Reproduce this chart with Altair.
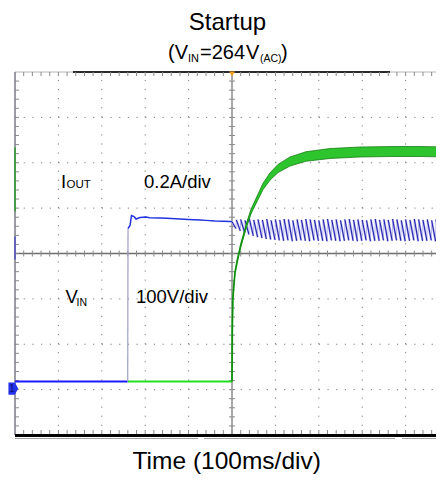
import altair as alt
import pandas as pd

FONT = "Liberation Sans"

# ---------------- data (scope divisions: x = 100 ms/div, y = div from centre) ----
grid_x = [1, 2, 3, 4, 6, 7, 8, 9]
grid_y = [-3, -2, -1, 1, 2, 3]
minor_x = [round(0.2 * i, 1) for i in range(1, 49)]
minor_y = [round(-4 + 0.2 * i, 1) for i in range(1, 40)]
X_MAX = 9.70  # visible part of the 10-division screen

# VIN trace (blue, 100 V/div)
vin_pre_t = [0.0, 2.597]
vin_pre_v = [-2.821, -2.821]
vin_jump_t = [2.597, 2.604]
vin_jump_v = [-2.821, 0.551]
vin_hold_t = [2.604, 2.650, 2.684, 2.742, 2.788, 2.880, 3.018, 3.100, 3.341, 3.500,
              3.802, 4.000, 4.263, 4.400, 4.608, 4.800, 4.954, 5.000]
vin_hold_v = [0.551, 0.617, 0.837, 0.815, 0.760, 0.793, 0.804, 0.790, 0.782, 0.775,
              0.760, 0.752, 0.738, 0.730, 0.716, 0.712, 0.705, 0.700]

# VIN ripple after the load starts: peaks (after each charge) and troughs
ripple_peak_t = [5.00, 5.10, 5.20, 5.30, 5.40, 5.50, 5.60, 5.70, 5.80, 5.90,
                 6.00, 6.10, 6.20, 6.30, 6.40, 6.50, 6.60, 6.70, 6.80, 6.90,
                 7.00, 7.10, 7.20, 7.30, 7.40, 7.50, 7.60, 7.70, 7.80, 7.90,
                 8.00, 8.10, 8.20, 8.30, 8.40, 8.50, 8.60, 8.70, 8.80, 8.90,
                 9.00, 9.10, 9.20, 9.30, 9.40, 9.50, 9.60, 9.70, 9.80]
ripple_peak_v = [0.70, 0.74, 0.75, 0.73, 0.76, 0.74, 0.75, 0.74, 0.76, 0.73,
                 0.75, 0.74, 0.76, 0.75, 0.73, 0.75, 0.74, 0.76, 0.75, 0.74,
                 0.73, 0.75, 0.76, 0.74, 0.75, 0.73, 0.75, 0.76, 0.74, 0.75,
                 0.74, 0.73, 0.75, 0.76, 0.74, 0.75, 0.74, 0.76, 0.75, 0.73,
                 0.75, 0.74, 0.76, 0.75, 0.74, 0.75, 0.73, 0.75, 0.74]
ripple_trough_t = [5.09, 5.19, 5.29, 5.39, 5.49, 5.59, 5.69, 5.79, 5.89, 5.99,
                   6.09, 6.19, 6.29, 6.39, 6.49, 6.59, 6.69, 6.79, 6.89, 6.99,
                   7.09, 7.19, 7.29, 7.39, 7.49, 7.59, 7.69, 7.79, 7.89, 7.99,
                   8.09, 8.19, 8.29, 8.39, 8.49, 8.59, 8.69, 8.79, 8.89, 8.99,
                   9.09, 9.19, 9.29, 9.39, 9.49, 9.59, 9.69, 9.79, 9.885]
ripple_trough_v = [0.55, 0.50, 0.46, 0.42, 0.39, 0.36, 0.34, 0.32, 0.31, 0.30,
                   0.29, 0.28, 0.29, 0.27, 0.28, 0.29, 0.28, 0.27, 0.29, 0.28,
                   0.28, 0.27, 0.29, 0.28, 0.27, 0.28, 0.29, 0.28, 0.27, 0.28,
                   0.29, 0.27, 0.28, 0.28, 0.29, 0.27, 0.28, 0.29, 0.28, 0.27,
                   0.28, 0.29, 0.27, 0.28, 0.28, 0.29, 0.27, 0.28, 0.31]

# IOUT trace (green, 0.2 A/div)
iout_flat_t = [2.604, 5.000]
iout_flat_v = [-2.821, -2.821]
iout_t = [5.000, 5.007, 5.018, 5.035, 5.069, 5.127, 5.207, 5.339, 5.438, 5.592,
          5.714, 5.876, 6.060, 6.336, 6.705, 7.258, 7.949, 8.710, 9.332, 9.885]
iout_mid = [-2.821, -1.675, -1.014, -0.793, -0.419, -0.132, 0.198, 0.639, 0.926, 1.234,
            1.477, 1.697, 1.873, 2.028, 2.138, 2.204, 2.237, 2.248, 2.248, 2.237]
iout_halfband = [0.0, 0.005, 0.01, 0.015, 0.02, 0.025, 0.03, 0.04, 0.05, 0.06,
                 0.07, 0.08, 0.09, 0.10, 0.105, 0.11, 0.11, 0.11, 0.11, 0.11]

# texts
title_text = "Startup"
sub_parts = ["(V", "IN", "=264", "V", "(AC)", ")"]
iout_label = ["I", "OUT", "0.2A/div"]
vin_label = ["V", "IN", "100V/div"]
x_title = "Time (100ms/div)"
channel_tag = "1"

# ---------------- helpers ----------------
xs = alt.Scale(domain=[0, X_MAX], nice=False, zero=False)
ys = alt.Scale(domain=[-4, 4], nice=False, zero=False)


def X(f):
    return alt.X(f, type="quantitative", scale=xs, axis=None)


def Y(f):
    return alt.Y(f, type="quantitative", scale=ys, axis=None)


def XD(v):
    return alt.X(datum=v, type="quantitative", scale=xs, axis=None)


def YD(v):
    return alt.Y(datum=v, type="quantitative", scale=ys, axis=None)


one = pd.DataFrame({"k": [0]})


def hseg(x0, x1, y, color, width, **kw):
    return alt.Chart(one).mark_rule(color=color, strokeWidth=width, **kw).encode(
        x=XD(x0), x2=alt.X2(datum=x1), y=YD(y))


def vseg(x, y0, y1, color, width, **kw):
    return alt.Chart(one).mark_rule(color=color, strokeWidth=width, **kw).encode(
        x=XD(x), y=YD(y0), y2=alt.Y2(datum=y1))


def line(t, v, color, width, **kw):
    df = pd.DataFrame({"t": t, "v": v, "o": list(range(len(t)))})
    return alt.Chart(df).mark_line(color=color, strokeWidth=width, **kw).encode(
        x=X("t"), y=Y("v"), order="o:Q")


def txt(s, x, y, size, align="left", color="black"):
    return alt.Chart(pd.DataFrame({"s": [s]})).mark_text(
        align=align, baseline="alphabetic", fontSize=size, font=FONT, color=color
    ).encode(x=alt.value(x), y=alt.value(y), text="s:N")


layers = []

# ---------------- graticule ----------------
layers.append(alt.Chart(pd.DataFrame({"g": grid_x})).mark_rule(
    color="#7c7c7c", strokeWidth=1, strokeDash=[1.2, 7.875]).encode(
    x=X("g"), y=YD(-4), y2=alt.Y2(datum=4)))
layers.append(alt.Chart(pd.DataFrame({"g": grid_y})).mark_rule(
    color="#7c7c7c", strokeWidth=1, strokeDash=[1.2, 7.48]).encode(
    y=Y("g"), x=XD(0), x2=alt.X2(datum=X_MAX)))

# top border (light + dark middle segment)
layers.append(hseg(0, X_MAX, 4, "#b4b4b4", 1))
layers.append(hseg(1.336, 8.64, 4, "#2a2a2a", 2))
# centre cross
layers.append(vseg(5, -4, 4, "#8c8c8c", 1.5))
layers.append(hseg(0, X_MAX, 0, "#6e6e6e", 1.5))
# left border
layers.append(vseg(0, -4, 4, "#7a7a86", 1.5))

tick_color = "#8a8a8a"
layers.append(alt.Chart(pd.DataFrame({"m": minor_y})).mark_tick(
    orient="horizontal", size=6, thickness=1, color=tick_color, opacity=1).encode(
    x=XD(5), y=Y("m")))
layers.append(alt.Chart(pd.DataFrame({"m": minor_x})).mark_tick(
    orient="vertical", size=6, thickness=1, color=tick_color, opacity=1).encode(
    x=X("m"), y=YD(0)))
layers.append(alt.Chart(pd.DataFrame({"m": minor_y})).mark_tick(
    orient="horizontal", size=4, thickness=1, color=tick_color, opacity=1, xOffset=2).encode(
    x=XD(0), y=Y("m")))
layers.append(alt.Chart(pd.DataFrame({"m": minor_x})).mark_tick(
    orient="vertical", size=4, thickness=1, color=tick_color, opacity=1, yOffset=2).encode(
    x=X("m"), y=YD(4)))
layers.append(alt.Chart(pd.DataFrame({"m": minor_x})).mark_tick(
    orient="vertical", size=4, thickness=1, color=tick_color, opacity=1, yOffset=-3).encode(
    x=X("m"), y=YD(-4)))

# bottom border: thick black + grey shadow pieces
layers.append(hseg(0, X_MAX, -4, "#000000", 3, yOffset=0.5))
for a, b in [(0, 4.217), (4.355, 8.756), (8.917, X_MAX)]:
    layers.append(hseg(a, b, -4, "#a0a0a0", 1, yOffset=3.5))

# channel remnants on the left edge
layers.append(vseg(0, 0.926, 2.336, "#2a9a2a", 1.5))
layers.append(vseg(0, -0.132, 0.375, "#5050c0", 1.5))

# ---------------- VIN (blue) ----------------
layers.append(line(vin_pre_t, vin_pre_v, "#1a1aff", 2.2))
layers.append(line(vin_jump_t, vin_jump_v, "#a0a0c8", 1.2))
layers.append(line(vin_hold_t, vin_hold_v, "#2233dd", 1.5))

dec = pd.DataFrame({"x": ripple_peak_t, "y": ripple_peak_v,
                    "x2": ripple_trough_t, "y2": ripple_trough_v})
rise = pd.DataFrame({"x": ripple_trough_t[:-1], "y": ripple_trough_v[:-1],
                     "x2": ripple_peak_t[1:], "y2": ripple_peak_v[1:]})
layers.append(alt.Chart(dec).mark_rule(color="#b4b4f0", strokeWidth=2.2).encode(
    x=X("x"), y=Y("y"), x2="x2:Q", y2="y2:Q"))
layers.append(alt.Chart(rise).mark_rule(color="#a8a8ea", strokeWidth=0.8).encode(
    x=X("x"), y=Y("y"), x2="x2:Q", y2="y2:Q"))
layers.append(alt.Chart(dec).mark_rule(color="#1c1ca8", strokeWidth=1).encode(
    x=X("x"), y=Y("y"), x2="x2:Q", y2="y2:Q"))

# ---------------- IOUT (green) ----------------
layers.append(line(iout_flat_t, iout_flat_v, "#22e022", 2.2))
band = pd.DataFrame({"t": iout_t, "mid": iout_mid, "h": iout_halfband})
band["lo"] = band["mid"] - band["h"]
band["hi"] = band["mid"] + band["h"]
layers.append(line(iout_t, iout_mid, "#22c822", 1.8))
layers.append(alt.Chart(band).mark_area(color="#2ec42e", opacity=1, interpolate="linear").encode(
    x=X("t"), y=Y("lo"), y2=alt.Y2("hi")))
for col in ["lo", "hi"]:
    layers.append(line(iout_t, list(band[col]), "#137a13", 1, opacity=0.75))

# ---------------- markers ----------------
layers.append(alt.Chart(one).mark_point(
    shape="triangle-down", filled=True, color="#f5a01a", opacity=1, size=35, yOffset=2).encode(
    x=XD(5), y=YD(4)))
layers.append(alt.Chart(one).mark_point(
    shape="M-0.75,-1L0.3,-1L0.85,0L0.3,1L-0.75,1Z", filled=True, color="#2433e8",
    opacity=1, size=150, xOffset=-2, yOffset=7).encode(x=XD(0), y=YD(-2.821)))
layers.append(alt.Chart(pd.DataFrame({"s": [channel_tag]})).mark_text(
    fontSize=10, font=FONT, color="#101070", align="center", baseline="middle",
    xOffset=-3, yOffset=7.5).encode(x=XD(0), y=YD(-2.821), text="s:N"))

# ---------------- texts (plot-relative pixels) ----------------
layers.append(txt(title_text, 212.5, -42.5, 24, align="center"))
sub_x = [153, 173, 185, 231, 245, 266]
sub_y = [-13, -10, -13, -13, -10, -13]
sub_s = [20, 11, 20, 20, 10.5, 20]
for s, x, y, f in zip(sub_parts, sub_x, sub_y, sub_s):
    layers.append(txt(s, x, y, f))

layers.append(txt(iout_label[0], 46, 116, 18.5))
layers.append(txt(iout_label[1], 51.5, 116, 11.5))
layers.append(txt(iout_label[2], 129, 116, 18.5))
layers.append(txt(vin_label[0], 50.5, 230.7, 18.5))
layers.append(txt(vin_label[1], 61.5, 233.7, 10.5))
layers.append(txt(vin_label[2], 121, 230.7, 18.5))
layers.append(txt(x_title, 211.7, 397, 24.5, align="center"))

chart = alt.layer(*layers).properties(
    width=421, height=363,
    autosize=alt.AutoSizeParams(type="none"),
    padding={"left": 7, "top": 64, "right": 0, "bottom": 46},
    background="white",
).configure_view(stroke=None)

chart.save("out.html", embed_options={"renderer": "svg", "actions": False})
